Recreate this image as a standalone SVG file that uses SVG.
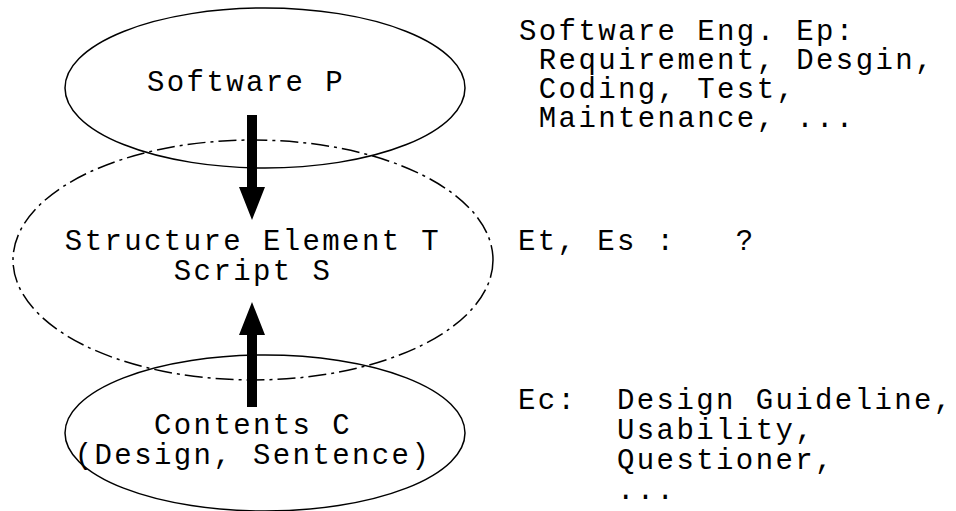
<svg xmlns="http://www.w3.org/2000/svg" width="956" height="511" viewBox="0 0 956 511">
  <style>
    text { font-family: "Liberation Mono", "Courier New", monospace; font-size: 29px; letter-spacing: 2.4px; fill: #000; white-space: pre; }
    .node { fill: none; stroke: #000; stroke-width: 1.5; }
    .dashdot { stroke-dasharray: 18 5 3 5; }
    .shaft { fill: #000; }
  </style>
  <rect width="956" height="511" fill="#fff"/>

  <g id="software">
    <ellipse class="node" cx="265" cy="88" rx="200" ry="80"/>
    <text x="147" y="91">Software P</text>
  </g>

  <g id="structure">
    <ellipse class="node dashdot" cx="253" cy="260" rx="240" ry="120"/>
    <text x="253" y="250" text-anchor="middle">Structure Element T</text>
    <text x="253" y="280" text-anchor="middle">Script S</text>
  </g>

  <g id="contents">
    <ellipse class="node" cx="265" cy="433" rx="200" ry="78"/>
    <text x="253" y="434" text-anchor="middle">Contents C</text>
    <text x="253" y="464" text-anchor="middle">(Design, Sentence)</text>
  </g>

  <g id="connectors">
    <!-- Software P down into the structure layer -->
    <path class="shaft" d="M247 115 H257 V187 H265 L252 220 L239 187 H247 Z"/>
    <!-- Contents C up into the structure layer -->
    <path class="shaft" d="M247 407 H257 V335 H265 L252 302 L239 335 H247 Z"/>
  </g>

  <g id="notes">
    <text x="519" y="40">Software Eng. Ep:</text>
    <text x="519" y="69"> Requirement, Desgin,</text>
    <text x="519" y="98"> Coding, Test,</text>
    <text x="519" y="127"> Maintenance, ...</text>
    <text x="518" y="250">Et, Es :   ?</text>
    <text x="518" y="409">Ec:  Design Guideline,</text>
    <text x="518" y="439">     Usability,</text>
    <text x="518" y="469">     Questioner,</text>
    <text x="518" y="499">     ...</text>
  </g>
</svg>
